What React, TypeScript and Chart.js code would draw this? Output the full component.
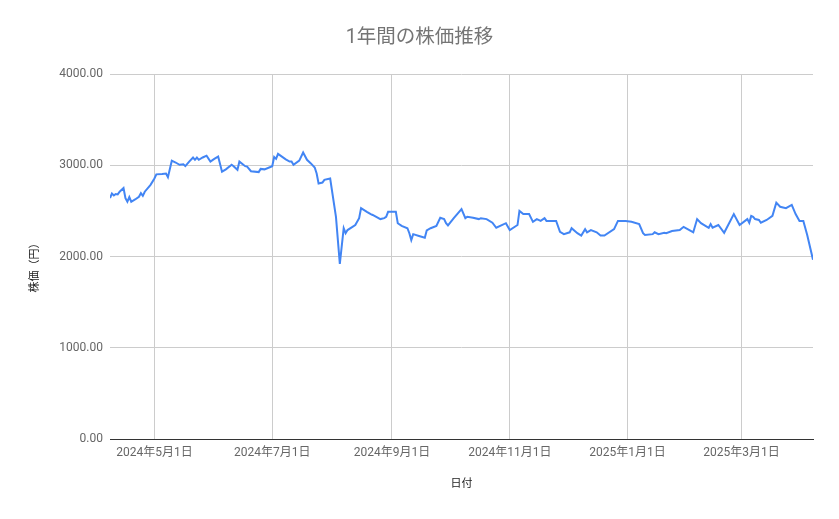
import React, { useEffect, useRef } from 'react'
import Chart, { ChartConfiguration } from 'chart.js/auto'

const dates = [
  '2024-04-08', '2024-04-09', '2024-04-10', '2024-04-11', '2024-04-12', '2024-04-13', '2024-04-15', '2024-04-16',
  '2024-04-17', '2024-04-18', '2024-04-19', '2024-04-21', '2024-04-23', '2024-04-24', '2024-04-25', '2024-04-26',
  '2024-04-29', '2024-05-01', '2024-05-02', '2024-05-05', '2024-05-07', '2024-05-08', '2024-05-10', '2024-05-12',
  '2024-05-14', '2024-05-16', '2024-05-17', '2024-05-19', '2024-05-21', '2024-05-22', '2024-05-23', '2024-05-24',
  '2024-05-26', '2024-05-28', '2024-05-30', '2024-06-01', '2024-06-03', '2024-06-05', '2024-06-07', '2024-06-10',
  '2024-06-11', '2024-06-13', '2024-06-14', '2024-06-17', '2024-06-18', '2024-06-20', '2024-06-24', '2024-06-25',
  '2024-06-27', '2024-07-01', '2024-07-02', '2024-07-03', '2024-07-04', '2024-07-08', '2024-07-10', '2024-07-11',
  '2024-07-12', '2024-07-15', '2024-07-17', '2024-07-19', '2024-07-21', '2024-07-23', '2024-07-24', '2024-07-25',
  '2024-07-27', '2024-07-28', '2024-07-31', '2024-08-03', '2024-08-05', '2024-08-07', '2024-08-08', '2024-08-09',
  '2024-08-13', '2024-08-15', '2024-08-16', '2024-08-19', '2024-08-21', '2024-08-22', '2024-08-26', '2024-08-28',
  '2024-08-29', '2024-08-30', '2024-09-03', '2024-09-04', '2024-09-06', '2024-09-09', '2024-09-10', '2024-09-11',
  '2024-09-12', '2024-09-15', '2024-09-18', '2024-09-19', '2024-09-21', '2024-09-24', '2024-09-26', '2024-09-28',
  '2024-09-29', '2024-09-30', '2024-10-03', '2024-10-07', '2024-10-09', '2024-10-10', '2024-10-13', '2024-10-16',
  '2024-10-17', '2024-10-20', '2024-10-23', '2024-10-25', '2024-10-30', '2024-11-01', '2024-11-05', '2024-11-06',
  '2024-11-08', '2024-11-11', '2024-11-13', '2024-11-15', '2024-11-17', '2024-11-19', '2024-11-20', '2024-11-25',
  '2024-11-27', '2024-11-29', '2024-12-02', '2024-12-03', '2024-12-06', '2024-12-08', '2024-12-10', '2024-12-11',
  '2024-12-13', '2024-12-16', '2024-12-18', '2024-12-20', '2024-12-25', '2024-12-27', '2024-12-31', '2025-01-03',
  '2025-01-07', '2025-01-09', '2025-01-10', '2025-01-14', '2025-01-15', '2025-01-17', '2025-01-20', '2025-01-21',
  '2025-01-24', '2025-01-28', '2025-01-30', '2025-02-02', '2025-02-04', '2025-02-06', '2025-02-08', '2025-02-12',
  '2025-02-13', '2025-02-14', '2025-02-17', '2025-02-20', '2025-02-25', '2025-02-28', '2025-03-04', '2025-03-05',
  '2025-03-06', '2025-03-07', '2025-03-08', '2025-03-10', '2025-03-11', '2025-03-14', '2025-03-17', '2025-03-19',
  '2025-03-21', '2025-03-24', '2025-03-27', '2025-03-29', '2025-03-31', '2025-04-02', '2025-04-04', '2025-04-07',
]

const prices = [
  2640, 2690, 2670, 2685, 2680, 2710, 2750, 2640,
  2600, 2650, 2600, 2625, 2655, 2695, 2665, 2710,
  2785, 2855, 2900, 2905, 2910, 2870, 3050, 3030,
  3005, 3010, 2990, 3040, 3085, 3060, 3085, 3060,
  3085, 3105, 3040, 3070, 3095, 2930, 2955, 3005,
  2990, 2950, 3040, 2990, 2985, 2935, 2925, 2960,
  2955, 2990, 3090, 3070, 3125, 3065, 3040, 3040,
  3005, 3050, 3140, 3060, 3020, 2975, 2910, 2800,
  2810, 2840, 2855, 2435, 1920, 2310, 2255, 2290,
  2345, 2420, 2530, 2490, 2465, 2455, 2410, 2420,
  2435, 2490, 2490, 2365, 2335, 2310, 2255, 2180,
  2245, 2225, 2205, 2285, 2310, 2335, 2425, 2410,
  2365, 2340, 2420, 2520, 2420, 2435, 2425, 2410,
  2420, 2410, 2370, 2315, 2365, 2290, 2345, 2500,
  2465, 2465, 2380, 2410, 2390, 2420, 2390, 2390,
  2270, 2245, 2265, 2310, 2255, 2230, 2300, 2265,
  2290, 2265, 2230, 2230, 2300, 2390, 2390, 2380,
  2355, 2255, 2235, 2245, 2265, 2245, 2260, 2255,
  2280, 2290, 2325, 2290, 2265, 2410, 2365, 2315,
  2355, 2315, 2345, 2260, 2465, 2345, 2410, 2370,
  2445, 2435, 2410, 2400, 2370, 2400, 2445, 2590,
  2545, 2530, 2565, 2465, 2390, 2390, 2235, 1965,
]

const tickDates = ['2024-05-01', '2024-07-01', '2024-09-01', '2024-11-01', '2025-01-01', '2025-03-01']
const tickLabels = ['2024年5月1日', '2024年7月1日', '2024年9月1日', '2024年11月1日', '2025年1月1日', '2025年3月1日']

const toDay = (s: string) => {
  const [y, m, d] = s.split('-').map(Number)
  return Date.UTC(y, m - 1, d) / 86400000
}

const FONT = "Roboto, 'Noto Sans CJK JP', sans-serif"

// y axis title, drawn by hand so it can sit a little below the middle like the original
const yTitlePlugin = {
  id: 'yTitle',
  afterDraw(chart: any) {
    const { ctx } = chart
    ctx.save()
    ctx.translate(35, 265)
    ctx.rotate(-Math.PI / 2)
    ctx.fillStyle = '#222'
    ctx.font = `11px ${FONT}`
    ctx.textAlign = 'center'
    ctx.textBaseline = 'middle'
    ctx.fillText('株価（円）', 0, 0)
    ctx.restore()
  },
}

const StockChart = () => {
  const chartRef = useRef<any>(null)

  useEffect(() => {
    const tickDays = tickDates.map(toDay)
    const points = dates.map((d, i) => ({ x: toDay(d), y: prices[i] }))

    const chartConfig: ChartConfiguration = {
      type: 'line',
      data: {
        datasets: [
          {
            label: '株価',
            data: points,
            borderColor: '#4285f4',
            borderWidth: 2,
            fill: false,
            tension: 0,
            pointRadius: 0,
          },
        ],
      },
      options: {
        animation: false,
        responsive: true,
        maintainAspectRatio: false,
        layout: { padding: 0 },
        scales: {
          x: {
            type: 'linear',
            min: points[0].x,
            max: points[points.length - 1].x,
            afterBuildTicks: (scale: any) => {
              scale.ticks = tickDays.map((v) => ({ value: v }))
            },
            afterFit: (scale: any) => {
              scale.height = 80
            },
            ticks: {
              autoSkip: false,
              maxRotation: 0,
              padding: 7,
              color: '#666',
              font: { family: FONT, size: 12 },
              callback: (v: any) => tickLabels[tickDays.indexOf(v)] ?? '',
            },
            grid: { color: '#cccccc', drawTicks: false },
            border: { color: '#333333', width: 1 },
            title: {
              display: true,
              text: '日付',
              color: '#222',
              font: { family: FONT, size: 11 },
              padding: { top: 17, bottom: 28.4 },
            },
          },
          y: {
            min: 0,
            max: 4000,
            afterFit: (scale: any) => {
              scale.width = 110
            },
            ticks: {
              stepSize: 1000,
              padding: 7,
              color: '#666',
              font: { family: FONT, size: 12 },
              callback: (v: any) => Number(v).toFixed(2),
            },
            grid: {
              color: (ctx: any) => (ctx.tick && ctx.tick.value === 0 ? '#333333' : '#cccccc'),
              drawTicks: false,
            },
            border: { display: false },
          },
          // empty right-hand strip so the title stays centred on the whole canvas
          yRight: {
            position: 'right',
            display: true,
            afterFit: (scale: any) => {
              scale.width = 26
            },
            grid: { display: false, drawTicks: false },
            ticks: { display: false },
            border: { display: false },
          },
        },
        plugins: {
          legend: { display: false },
          tooltip: { enabled: false },
          title: {
            display: true,
            text: '1年間の株価推移',
            color: '#757575',
            font: { family: FONT, size: 19.5, weight: 'normal' },
            padding: { top: 26.8, bottom: 23.8 },
          },
        },
      },
      plugins: [yTitlePlugin],
    }

    const chartInstance = new Chart(chartRef.current, chartConfig)

    return () => {
      chartInstance.destroy()
    }
  }, [])

  return <canvas ref={chartRef} />
}

export default function App() {
  return (
    <div style={{ position: 'fixed', left: 0, top: 0, width: 839, height: 519, background: '#fff' }}>
      <StockChart />
    </div>
  )
}
